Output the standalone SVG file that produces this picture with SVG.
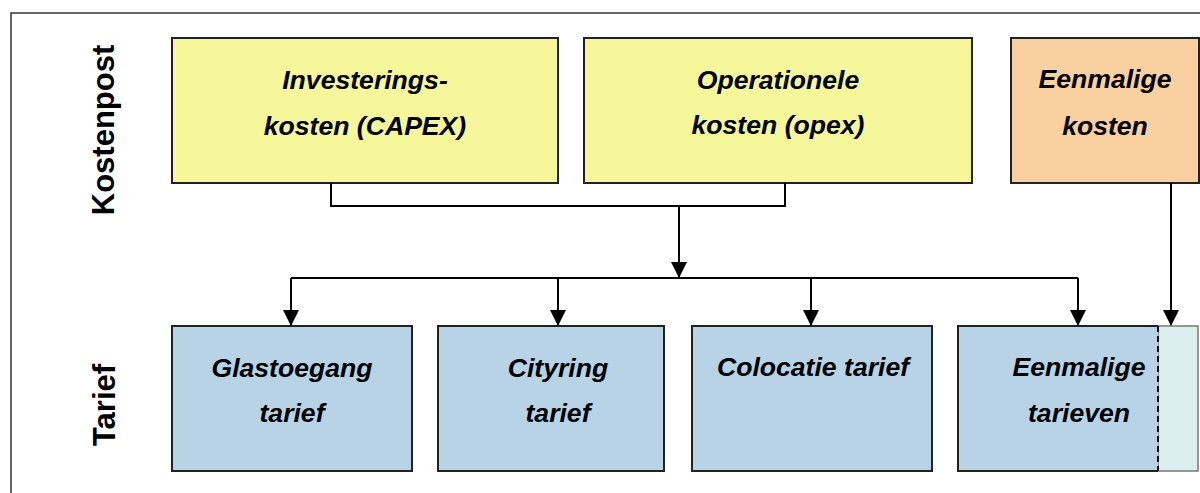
<svg xmlns="http://www.w3.org/2000/svg" width="1200" height="493" viewBox="0 0 1200 493">
<style>
.box{stroke:#222;stroke-width:2}
.y{fill:#F6F69A}
.o{fill:#F9D1A0}
.b{fill:#B7D3E5}
.t{font-family:"Liberation Sans",Arial,sans-serif;font-weight:bold;font-style:italic;font-size:26.6px;fill:#000;text-anchor:middle}
.lab{font-family:"Liberation Sans",Arial,sans-serif;font-weight:bold;font-size:31px;fill:#000;text-anchor:middle}
.c{fill:none;stroke:#000;stroke-width:2}
</style>
<defs>
<marker id="arr" markerWidth="16" markerHeight="16" viewBox="0 0 16 16" refX="15" refY="8" orient="auto" markerUnits="userSpaceOnUse">
<path d="M0,0 L16,8 L0,16 Z" fill="#000"/>
</marker>
</defs>
<rect x="0" y="0" width="1200" height="493" fill="#fff"/>
<rect x="11" y="13" width="1210" height="500" fill="none" stroke="#333" stroke-width="1.5"/>
<g id="lab-kostenpost"><text class="lab" transform="translate(114 130) rotate(-90)">Kostenpost</text></g>
<g id="lab-tarief"><text class="lab" transform="translate(115 405) rotate(-90)">Tarief</text></g>
<g id="capex">
<rect class="box y" x="172" y="38" width="386" height="145"/>
<text class="t" x="365" y="89">Investerings-</text>
<text class="t" x="365" y="135">kosten (CAPEX)</text>
</g>
<g id="opex">
<rect class="box y" x="584" y="38" width="388" height="145"/>
<text class="t" x="778" y="89">Operationele</text>
<text class="t" x="778" y="134">kosten (opex)</text>
</g>
<g id="eenmalige-kosten">
<rect class="box o" x="1011" y="38" width="188" height="145"/>
<text class="t" x="1105" y="88">Eenmalige</text>
<text class="t" x="1105" y="135">kosten</text>
</g>
<g id="glastoegang">
<rect class="box b" x="172" y="326" width="240" height="145"/>
<text class="t" x="292" y="377">Glastoegang</text>
<text class="t" x="292" y="422">tarief</text>
</g>
<g id="cityring">
<rect class="box b" x="438" y="326" width="226" height="145"/>
<text class="t" x="558" y="377">Cityring</text>
<text class="t" x="558" y="422">tarief</text>
</g>
<g id="colocatie">
<rect class="box b" x="692" y="326" width="240" height="145"/>
<text class="t" x="813" y="376">Colocatie tarief</text>
</g>
<g id="eenmalige-tarieven">
<rect x="1158" y="326" width="40" height="145" fill="#DDEEEE" stroke="#777" stroke-width="1.5"/>
<rect x="958" y="326" width="200" height="145" class="b"/>
<path d="M1158,326 H958 V471 H1158" fill="none" stroke="#222" stroke-width="2"/>
<line x1="1158" y1="326" x2="1158" y2="471" stroke="#111" stroke-width="2" stroke-dasharray="6,4"/>
<text class="t" x="1079" y="376">Eenmalige</text>
<text class="t" x="1079" y="422">tarieven</text>
</g>
<g id="connectors">
<path class="c" d="M331,183 V206 H785 V183"/>
<path class="c" d="M679,206 V277" marker-end="url(#arr)"/>
<path class="c" d="M291,278 H1078"/>
<path class="c" d="M291,278 V325" marker-end="url(#arr)"/>
<path class="c" d="M558,278 V325" marker-end="url(#arr)"/>
<path class="c" d="M811,278 V325" marker-end="url(#arr)"/>
<path class="c" d="M1078,278 V325" marker-end="url(#arr)"/>
<path class="c" d="M1171,183 V325" marker-end="url(#arr)"/>
</g>
</svg>
